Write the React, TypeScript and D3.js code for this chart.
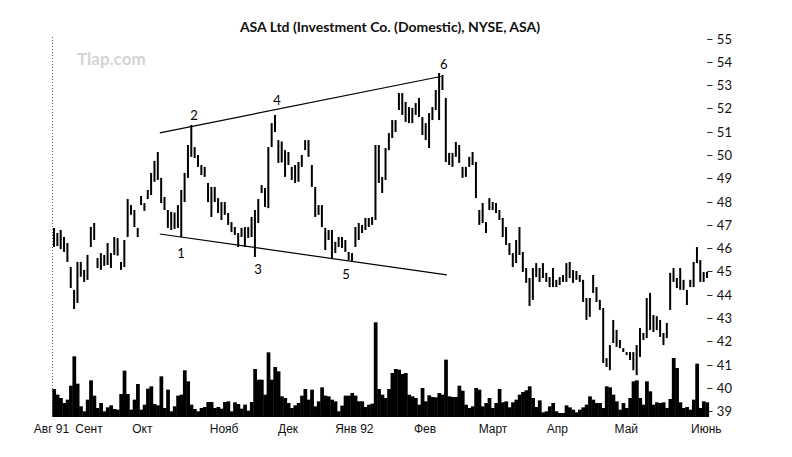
import * as d3 from "d3";
import { useEffect, useRef } from "react";

const WIDTH = 792;
const HEIGHT = 457;

// daily price bars, Aug 91 .. Jun 92
const highs = [
    46.89, 46.67, 46.8, 46.5, 46.24, 45.21, 44.23, 45.43, 45.43, 45.09, 45.73, 46.93, 47.1, 45.6, 45.81, 45.73, 46.24, 45.81, 46.5, 46.45,
    45.43, 46.37, 48.13, 47.87, 47.66, 46.89, 48.26, 47.96, 48.52, 49.25, 49.77, 50.15, 49.04, 48.22, 47.66, 47.58, 47.55, 47.87, 48.52, 49.25,
    50.45, 51.31, 50.36, 50.02, 49.59, 49.51, 48.82, 48.65, 48.65, 48.17, 48.0, 48.0, 47.53, 47.14, 46.93, 46.67, 46.89, 46.93, 46.93, 47.36,
    47.66, 48.13, 48.73, 48.6, 50.36, 51.39, 51.74, 50.66, 50.6, 50.23, 50.15, 49.51, 49.59, 49.72, 50.02, 50.66, 50.66, 49.59, 48.65, 47.87,
    47.87, 46.89, 46.8, 46.8, 46.29, 46.5, 46.5, 46.37, 45.86, 45.81, 46.93, 47.1, 47.02, 47.32, 47.32, 47.36, 50.45, 50.45, 49.08, 50.32,
    50.96, 51.52, 51.52, 52.68, 52.68, 52.3, 52.08, 52.04, 52.25, 52.47, 51.65, 51.39, 51.82, 52.08, 52.81, 53.54, 53.46, 52.47, 50.11, 50.11,
    50.58, 50.45, 49.51, 49.51, 49.94, 50.15, 49.72, 47.66, 47.96, 47.14, 48.17, 48.0, 47.96, 47.66, 47.32, 46.93, 46.24, 45.81, 46.37, 46.93,
    45.86, 45.17, 44.74, 45.17, 45.38, 45.17, 45.38, 44.96, 44.78, 45.17, 44.66, 44.78, 44.87, 45.38, 45.43, 45.08, 45.04, 44.87, 44.66, 43.88,
    43.88, 44.87, 44.35, 43.8, 43.45, 41.3, 41.86, 42.94, 42.51, 42.08, 41.73, 41.56, 41.56, 41.56, 41.86, 42.59, 42.38, 43.88, 44.1, 43.15,
    43.1, 42.94, 42.38, 42.81, 44.96, 45.17, 44.74, 45.17, 44.66, 44.23, 44.66, 45.43, 46.07, 45.51, 45.0, 45.0,
];
const lows = [
    46.07, 46.11, 45.98, 45.86, 45.43, 44.31, 43.41, 43.67, 44.79, 44.57, 44.66, 46.07, 46.37, 45.17, 45.09, 45.26, 45.3, 45.17, 45.73, 45.7,
    45.09, 45.21, 46.5, 47.45, 46.93, 46.5, 47.87, 47.62, 48.13, 48.3, 48.87, 48.95, 47.96, 47.66, 46.89, 46.8, 46.85, 46.89, 46.5, 48.0,
    49.04, 49.94, 49.89, 49.51, 49.16, 49.08, 48.0, 47.36, 48.0, 47.53, 47.23, 47.45, 47.02, 46.71, 46.59, 46.07, 46.5, 46.07, 46.46, 46.5,
    45.64, 47.1, 48.39, 47.79, 47.74, 50.36, 51.01, 49.68, 49.7, 49.08, 49.59, 48.95, 48.82, 48.87, 49.51, 50.23, 49.94, 48.65, 47.36, 47.45,
    46.93, 45.94, 46.37, 45.6, 45.81, 46.07, 46.03, 45.86, 45.51, 45.43, 46.07, 46.37, 46.67, 46.8, 46.93, 47.02, 47.23, 48.82, 48.39, 48.95,
    50.23, 50.75, 51.01, 51.95, 51.74, 51.44, 51.39, 51.39, 51.74, 51.65, 50.88, 50.66, 50.32, 51.52, 51.95, 51.52, 52.81, 49.72, 49.59, 49.51,
    49.94, 49.68, 49.04, 49.08, 49.51, 49.59, 48.17, 47.02, 47.1, 46.67, 47.66, 47.66, 47.53, 47.23, 46.5, 46.16, 45.73, 45.21, 45.38, 45.73,
    45.0, 44.53, 43.54, 43.8, 44.78, 44.57, 44.74, 44.57, 44.35, 44.35, 44.35, 44.44, 44.57, 44.57, 44.74, 44.53, 44.66, 44.57, 43.71, 42.94,
    43.07, 44.1, 43.71, 43.37, 41.09, 40.92, 40.78, 41.95, 41.78, 41.73, 41.56, 41.43, 41.22, 40.78, 40.57, 41.35, 42.08, 42.16, 42.51, 42.42,
    42.5, 42.21, 41.86, 42.16, 43.37, 44.57, 44.31, 44.23, 44.23, 43.58, 44.35, 44.35, 45.38, 44.57, 44.57, 44.74,
];
const volumes = [
    84, 67, 57, 42, 52, 94, 182, 100, 32, 17, 52, 110, 64, 27, 42, 17, 29, 35, 24, 22,
    69, 139, 69, 22, 52, 99, 22, 37, 85, 92, 39, 35, 122, 27, 82, 17, 32, 64, 67, 140,
    107, 37, 24, 17, 27, 30, 45, 45, 27, 30, 25, 45, 47, 17, 44, 39, 25, 37, 19, 45,
    144, 112, 112, 67, 194, 112, 150, 137, 62, 57, 42, 27, 35, 42, 64, 84, 52, 82, 32, 47,
    89, 64, 62, 52, 47, 17, 34, 64, 64, 72, 64, 47, 47, 30, 37, 40, 284, 84, 67, 57,
    84, 132, 144, 142, 129, 132, 67, 62, 57, 37, 87, 47, 65, 60, 59, 72, 67, 172, 62, 60,
    60, 94, 79, 37, 27, 32, 87, 82, 32, 42, 57, 27, 42, 84, 44, 47, 29, 44, 52, 67,
    75, 80, 92, 57, 30, 50, 14, 17, 32, 42, 17, 12, 12, 35, 29, 22, 14, 22, 29, 37,
    62, 52, 42, 42, 27, 92, 89, 67, 47, 22, 42, 27, 57, 107, 110, 57, 37, 107, 77, 37,
    44, 42, 44, 27, 54, 177, 147, 44, 27, 30, 22, 52, 160, 27, 47, 44,
];

const priceTicks = d3.range(39, 56);
const monthNames = ["Авг 91", "Сент", "Окт", "Нояб", "Дек", "Янв 92", "Фев", "Март", "Апр", "Май", "Июнь"];
const monthPos = [-0.75, 10.45, 26.4, 50.8, 69.9, 89.7, 110.8, 131.1, 150.3, 170.9, 194.8];

const pointNames = ["1", "2", "3", "4", "5", "6"];
const pointPos = [37.9, 41.8, 60.9, 66.6, 87.2, 116.4];
const pointPrice = [45.6, 51.52, 44.91, 52.17, 44.7, 53.71];

const upperLine: [number, number][] = [
    [31.6, 50.97],
    [115.5, 53.39],
];
const lowerLine: [number, number][] = [
    [31.6, 46.63],
    [117.3, 44.87],
];

function PriceChart() {
    const svgRef = useRef<SVGSVGElement | null>(null);

    useEffect(() => {
        if (!svgRef.current) return;
        const svg = d3.select(svgRef.current);
        svg.selectAll("*").remove();

        const x = d3.scaleLinear().domain([0, highs.length - 1]).range([54, 707]);
        const y = d3.scaleLinear().domain([39, 55]).range([411.7, 39]);
        const v = d3.scaleLinear().domain([0, 300]).range([417, 317]);
        const step = x(1) - x(0);

        svg.append("rect").attr("width", WIDTH).attr("height", HEIGHT).attr("fill", "#fff");

        svg.append("text")
            .attr("x", 77)
            .attr("y", 65)
            .attr("font-family", "Lato, sans-serif")
            .attr("font-weight", 700)
            .attr("font-size", 17)
            .attr("fill", "#d4d4d4")
            .text("Tlap.com");

        svg.append("text")
            .attr("x", 390)
            .attr("y", 32)
            .attr("text-anchor", "middle")
            .attr("font-family", "Lato, sans-serif")
            .attr("font-weight", 700)
            .attr("font-size", 14)
            .attr("fill", "#111")
            .text("ASA Ltd (Investment Co. (Domestic), NYSE, ASA)");

        // left dotted axis
        svg.append("line")
            .attr("x1", 52.5)
            .attr("x2", 52.5)
            .attr("y1", 37)
            .attr("y2", 417)
            .attr("stroke", "#666")
            .attr("stroke-dasharray", "1,2");

        // volume
        svg.append("g")
            .selectAll("rect")
            .data(volumes)
            .enter()
            .append("rect")
            .attr("x", (_, i) => x(i) - step / 2)
            .attr("width", step + 0.4)
            .attr("y", (d) => v(d))
            .attr("height", (d) => v(0) - v(d))
            .attr("fill", "#000");

        // price bars
        svg.append("g")
            .selectAll("line")
            .data(highs)
            .enter()
            .append("line")
            .attr("x1", (_, i) => x(i))
            .attr("x2", (_, i) => x(i))
            .attr("y1", (d) => y(d))
            .attr("y2", (_, i) => y(lows[i]))
            .attr("stroke", "#000")
            .attr("stroke-width", 2);

        const line = d3
            .line<[number, number]>()
            .x((d) => x(d[0]))
            .y((d) => y(d[1]));
        [upperLine, lowerLine].forEach((pts) => {
            svg.append("path").attr("d", line(pts)).attr("fill", "none").attr("stroke", "#000").attr("stroke-width", 1.2);
        });

        svg.append("g")
            .selectAll("text")
            .data(pointNames)
            .enter()
            .append("text")
            .attr("x", (_, i) => x(pointPos[i]))
            .attr("y", (_, i) => y(pointPrice[i]))
            .attr("text-anchor", "middle")
            .attr("font-family", "Lato, sans-serif")
            .attr("font-size", 13)
            .attr("fill", "#000")
            .text((d) => d);

        // right price scale
        svg.append("g")
            .selectAll("text")
            .data(priceTicks)
            .enter()
            .append("text")
            .attr("x", 706)
            .attr("y", (d) => y(d) + 4.5)
            .attr("font-family", "Lato, sans-serif")
            .attr("font-size", 13)
            .attr("fill", "#111")
            .text((d) => `– ${d}`);

        svg.append("g")
            .selectAll("text")
            .data(monthNames)
            .enter()
            .append("text")
            .attr("x", (_, i) => x(monthPos[i]))
            .attr("y", 433)
            .attr("text-anchor", "middle")
            .attr("font-family", "'Liberation Sans', Arial, sans-serif")
            .attr("font-size", 12)
            .attr("fill", "#111")
            .text((d) => d);
    }, []);

    return <svg ref={svgRef} width={WIDTH} height={HEIGHT} style={{ display: "block" }} />;
}

export default function App() {
    return (
        <div style={{ position: "absolute", left: 0, top: 0 }}>
            <PriceChart />
        </div>
    );
}
